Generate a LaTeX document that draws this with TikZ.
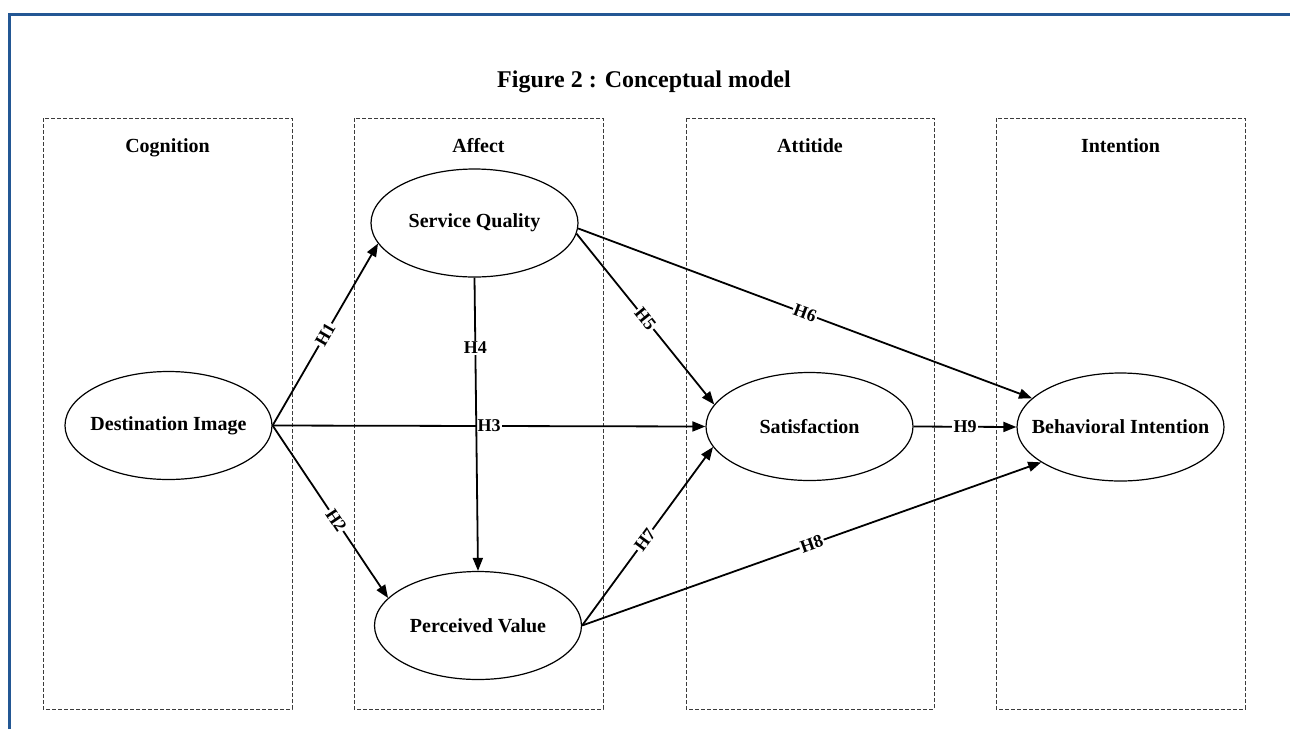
\documentclass[tikz,border=0pt]{standalone}
\usepackage{fontspec}
\setmainfont{Liberation Serif}
\usetikzlibrary{shapes.geometric,arrows.meta}
\definecolor{frameblue}{RGB}{35,87,148}
\definecolor{dgray}{RGB}{60,60,60}

\tikzset{
  stage/.style={draw=dgray,line width=0.5pt,dash pattern=on 2pt off 1pt},
  stagetitle/.style={anchor=base,font=\bfseries},
  construct/.style={ellipse,draw,line width=0.6pt,minimum width=103.5pt,
    minimum height=54pt,inner sep=0pt,font=\bfseries},
  hyp/.style={-{Triangle[length=6.5pt,width=5pt]},line width=0.9pt},
  hlabel/.style={fill=white,inner sep=0.6pt,font=\bfseries\small}
}

\begin{document}
\begin{tikzpicture}[x=0.5pt,y=-0.5pt]
  \useasboundingbox (0,0) rectangle (1290,729);
  \draw[frameblue,line width=1.5pt] (9,729) -- (9,14) -- (1290,14);

  \node[font=\large\bfseries] (title) at (644,82) {Figure 2 : Conceptual model};

  % stages
  \draw[stage] (43,118) rectangle (292,709);
  \draw[stage] (354,118) rectangle (603,709);
  \draw[stage] (686,118) rectangle (934,709);
  \draw[stage] (996,118) rectangle (1245,709);
  \node[stagetitle] (cog) at (167.5,152) {Cognition};
  \node[stagetitle] (aff) at (478.5,152) {Affect};
  \node[stagetitle] (att) at (810,152) {Attitide};
  \node[stagetitle] (int) at (1120.5,152) {Intention};

  % constructs
  \node[construct] (di) at (168.5,425.5) {\makebox[0pt]{Destination Image}};
  \node[construct] (sq) at (474.5,223) {\makebox[0pt]{Service Quality}};
  \node[construct] (pv) at (478,625.5) {\makebox[0pt]{Perceived Value}};
  \node[construct] (sat) at (809.5,426.5) {\makebox[0pt]{Satisfaction}};
  \node[construct] (bi) at (1120.5,427) {\makebox[0pt]{Behavioral Intention}};

  % hypotheses
  \draw[hyp] (di.east) -- node[hlabel,sloped] {H1} (sq.192);
  \draw[hyp] (di.east) -- node[hlabel,sloped,pos=0.55] {H2} (pv.163);
  \draw[hyp] (di.east) -- node[hlabel] {H3} (sat.west);
  \draw[hyp] (sq.south) -- node[hlabel,pos=0.24] {H4} (pv.north);
  \draw[hyp] (sq.-6) -- node[hlabel,sloped] {H5} (sat.167);
  \draw[hyp] (sq.-3) -- node[hlabel,sloped] {H6} (bi.162);
  \draw[hyp] (pv.east) -- node[hlabel,sloped,pos=0.48] {H7} (sat.192);
  \draw[hyp] (pv.east) -- node[hlabel,sloped] {H8} (bi.204);
  \draw[hyp] (sat.east) -- node[hlabel] {H9} (bi.west);
\end{tikzpicture}
\end{document}
